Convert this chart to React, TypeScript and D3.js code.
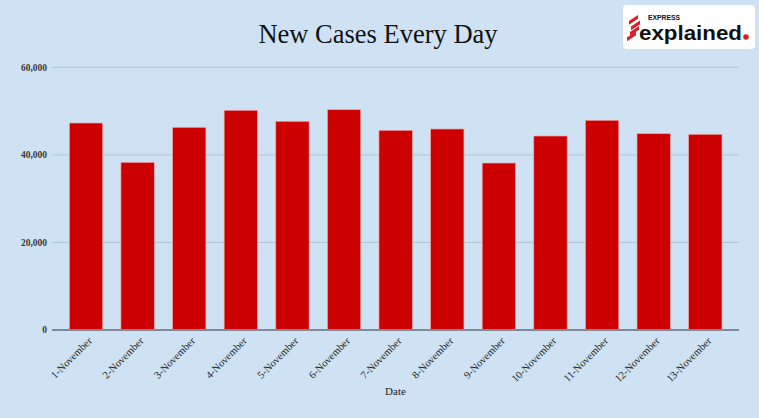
import React from "react";
import * as d3 from "d3";

const categories = [
  "1-November", "2-November", "3-November", "4-November", "5-November",
  "6-November", "7-November", "8-November", "9-November", "10-November",
  "11-November", "12-November", "13-November",
];
const newCases = [47280, 38300, 46300, 50180, 47670, 50320, 45610, 45910, 38140, 44310, 47900, 44840, 44700];
const yTicks = [0, 20000, 40000, 60000];

const W = 759;
const H = 418;
const gridX0 = 52;
const gridX1 = 739;

export default function App() {
  const x = d3
    .scaleBand<string>()
    .domain(categories)
    .range([60.2, 731.1])
    .paddingInner(0.353)
    .paddingOuter(0.1765);
  const y = d3.scaleLinear().domain([0, 60000]).range([330, 67.3]);
  const fmt = d3.format(",");
  const serif = "'Liberation Serif', 'DejaVu Serif', serif";
  const stripeOffsets = [3, 5, 4, 1];

  return (
    <svg
      width={W}
      height={H}
      style={{ position: "absolute", left: 0, top: 0, display: "block" }}
    >
      <rect x={0} y={0} width={W} height={H} fill="#cfe2f3" />
      <text
        x={378}
        y={43}
        textAnchor="middle"
        fontFamily={serif}
        fontSize={26.5}
        fill="#111"
      >
        New Cases Every Day
      </text>

      {yTicks.map((t) => (
        <g key={t}>
          {t !== 0 && (
            <line x1={gridX0} x2={gridX1} y1={y(t)} y2={y(t)} stroke="#b3c2d2" strokeWidth={1} />
          )}
          <text
            x={47}
            y={y(t)}
            dy="0.35em"
            textAnchor="end"
            fontFamily={serif}
            fontSize={9.5}
            fontWeight="bold"
            fill="#3a3a3a"
          >
            {fmt(t)}
          </text>
        </g>
      ))}

      {categories.map((c, i) => (
        <rect
          key={c}
          x={x(c)}
          y={y(newCases[i])}
          width={x.bandwidth()}
          height={y(0) - y(newCases[i])}
          fill="#cc0000"
          stroke="#eea9a9"
          strokeWidth={0.7}
        />
      ))}

      <line x1={gridX0} x2={gridX1} y1={y(0)} y2={y(0)} stroke="#7d8a99" strokeWidth={2} />

      {categories.map((c) => {
        const cx = (x(c) as number) + x.bandwidth() / 2;
        return (
          <text
            key={c}
            transform={`translate(${cx + 4},${339}) rotate(-45)`}
            textAnchor="end"
            dy="0.35em"
            fontFamily={serif}
            fontSize={10.5}
            fill="#222"
          >
            {c}
          </text>
        );
      })}

      <text x={395.5} y={395} textAnchor="middle" fontFamily={serif} fontSize={11} fill="#222">
        Date
      </text>

      <g>
        <rect x={623} y={5} width={132} height={44} rx={4} fill="#ffffff" />
        {stripeOffsets.map((o, k) => (
          <path
            key={k}
            d={`M${626 + o},${21 + k * 5.5} l9,-6 l0,3.8 l-9,6 z`}
            fill="#d81f26"
          />
        ))}
        <text
          x={648}
          y={19.5}
          fontFamily="'Liberation Sans', Arial, sans-serif"
          fontWeight="bold"
          fontSize={8}
          textLength={32}
          lengthAdjust="spacingAndGlyphs"
          fill="#111"
        >
          EXPRESS
        </text>
        <text
          x={639}
          y={40}
          fontFamily="'Liberation Sans', Arial, sans-serif"
          fontWeight="bold"
          fontSize={21}
          textLength={103}
          lengthAdjust="spacingAndGlyphs"
          fill="#111"
        >
          explained
        </text>
        <circle cx={746} cy={37} r={2.8} fill="#d81f26" />
      </g>
    </svg>
  );
}
